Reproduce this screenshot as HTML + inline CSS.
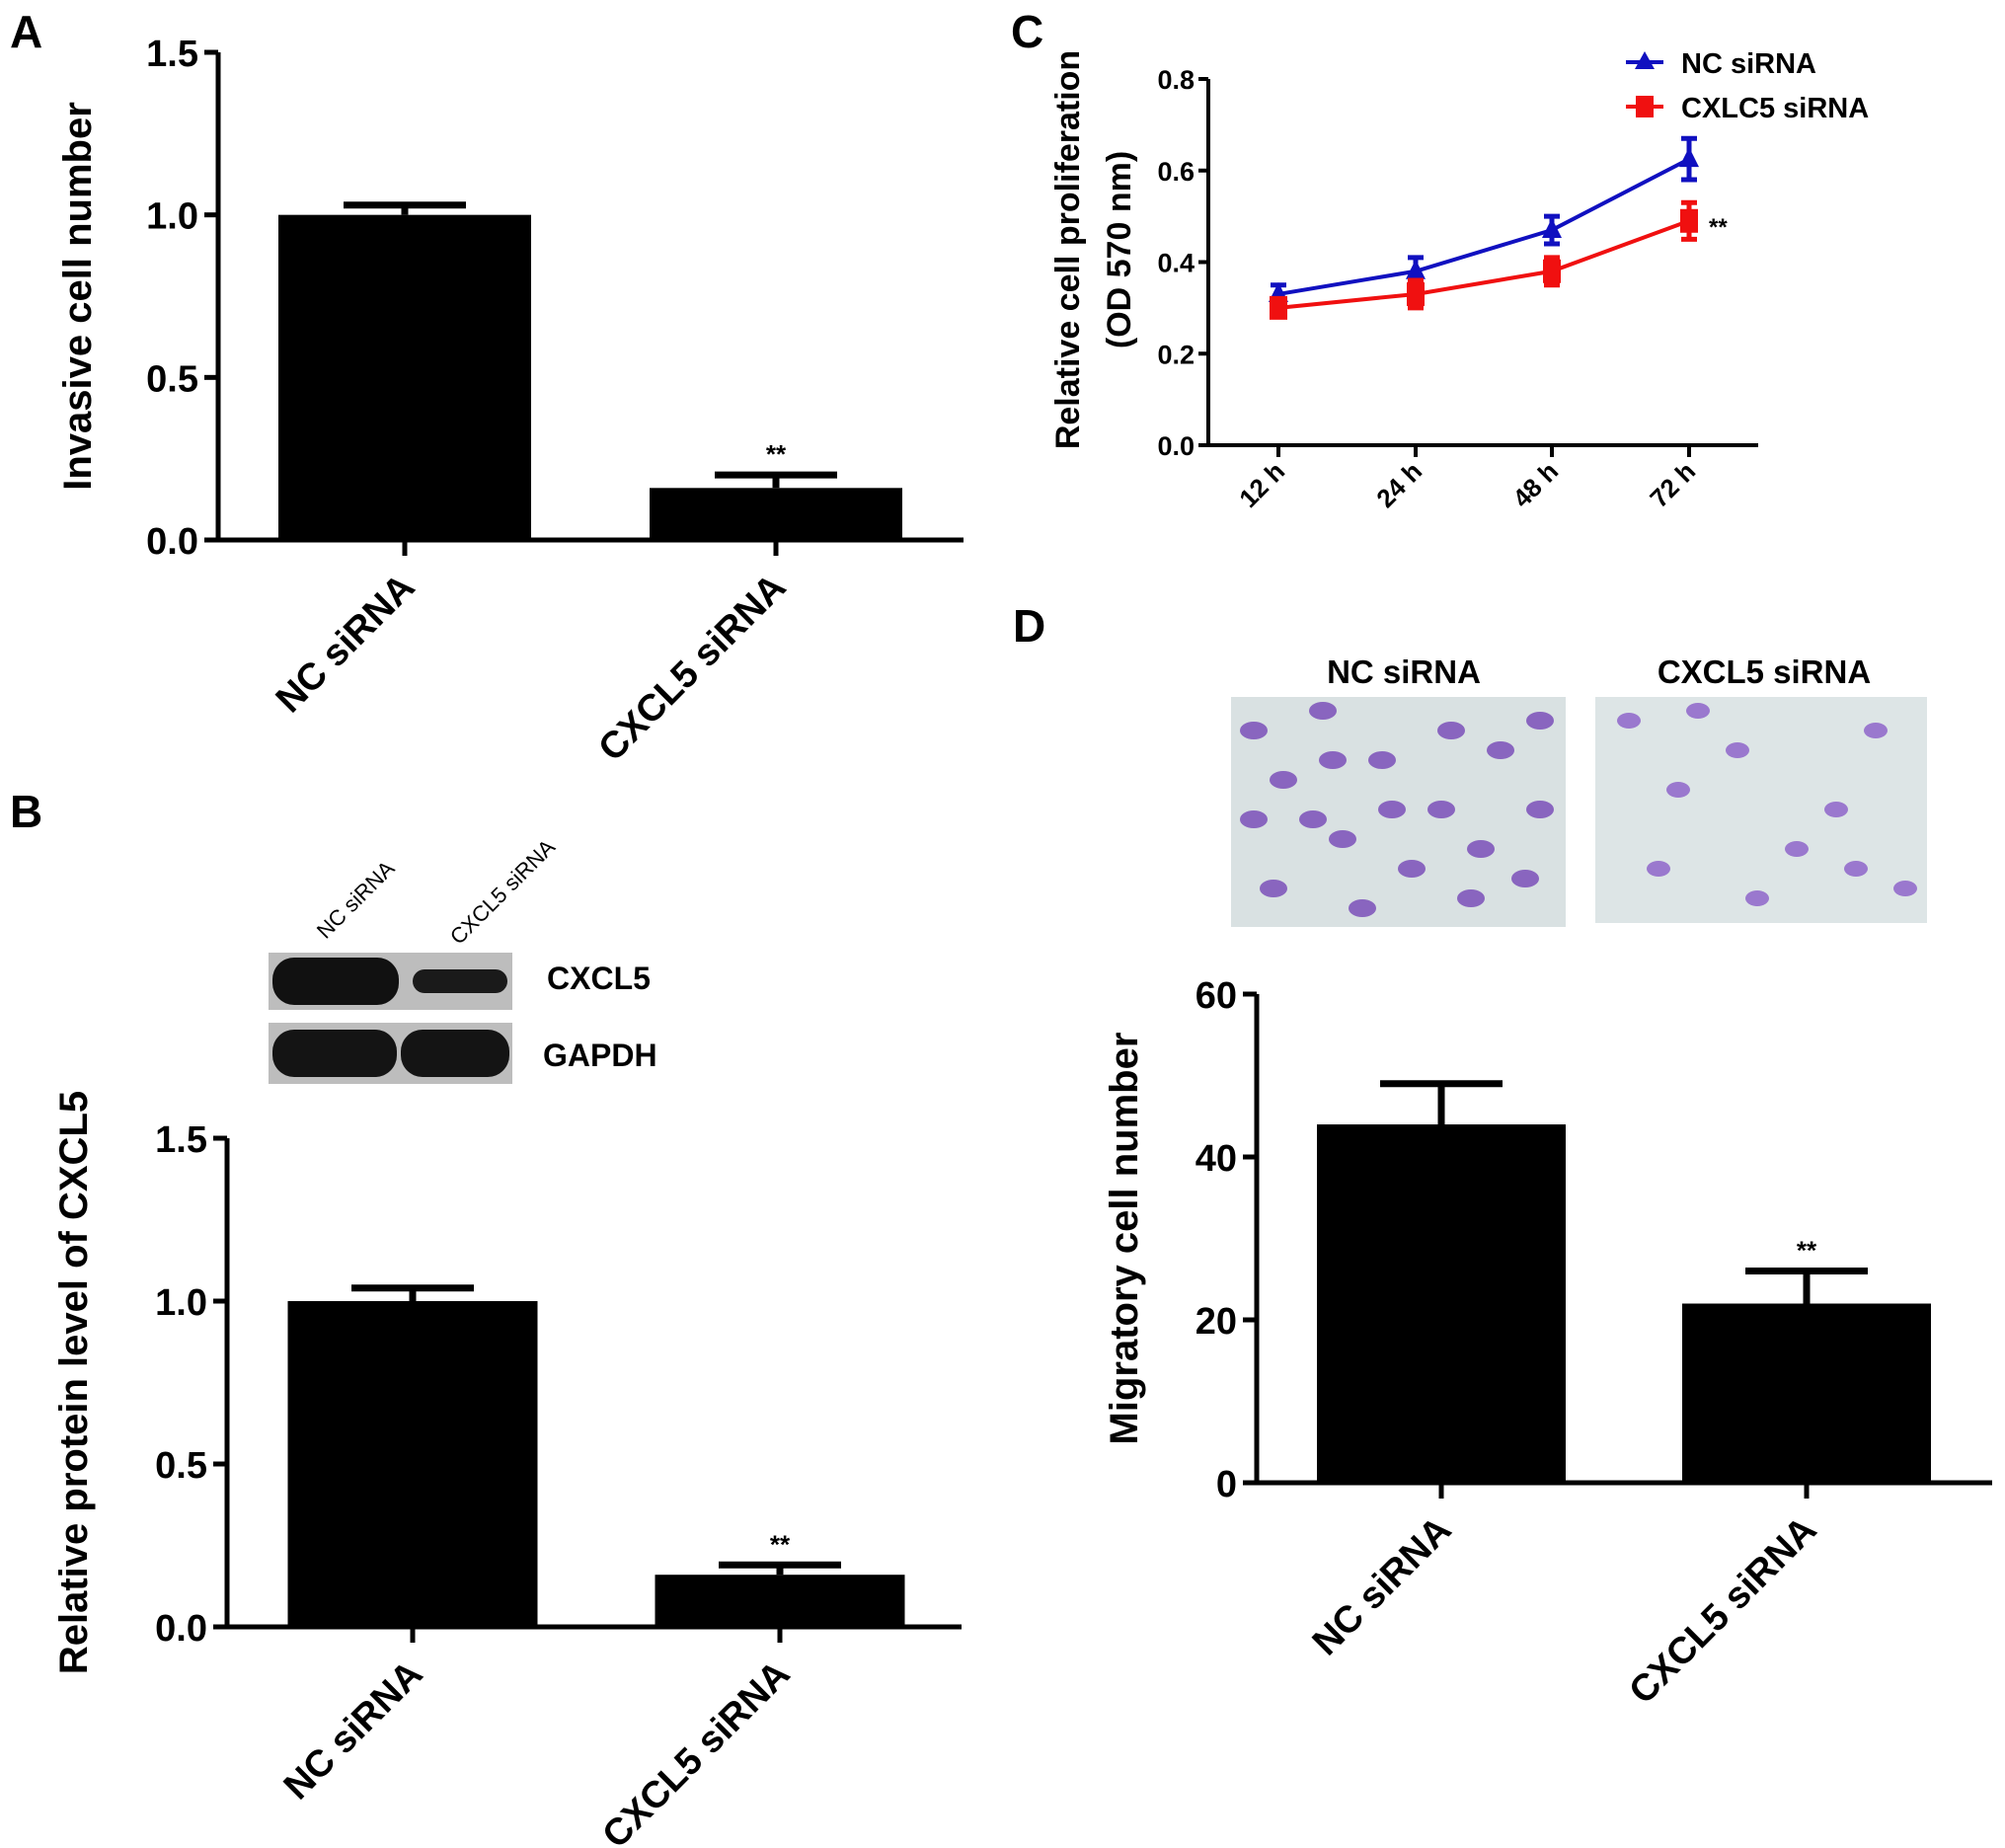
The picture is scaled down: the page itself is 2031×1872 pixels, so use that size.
<!DOCTYPE html>
<html><head><meta charset="utf-8"><style>
html,body{margin:0;padding:0;background:#fff;}
svg{display:block;font-family:"Liberation Sans",Arial,sans-serif;}
</style></head><body>
<svg id="fig" width="2031" height="1872" viewBox="0 0 2031 1872" xmlns="http://www.w3.org/2000/svg">
<text x="10" y="48" font-size="46" font-weight="bold">A</text>
<text x="10" y="838" font-size="46" font-weight="bold">B</text>
<text x="1024" y="48" font-size="46" font-weight="bold">C</text>
<text x="1026" y="650" font-size="46" font-weight="bold">D</text>
<g>
<text transform="translate(330,952) rotate(-45)" font-size="22">NC siRNA</text>
<text transform="translate(465,958) rotate(-45)" font-size="22">CXCL5 siRNA</text>
<rect x="272" y="965" width="247" height="58" fill="#bdbdbd"/>
<rect x="276" y="970" width="128" height="48" rx="22" fill="#111"/>
<rect x="418" y="982" width="96" height="24" rx="12" fill="#1a1a1a"/>
<rect x="272" y="1036" width="247" height="62" fill="#bdbdbd"/>
<rect x="276" y="1043" width="126" height="48" rx="22" fill="#141414"/>
<rect x="406" y="1043" width="110" height="48" rx="22" fill="#141414"/>
<text x="554" y="1002" font-size="32" font-weight="bold">CXCL5</text>
<text x="550" y="1080" font-size="32" font-weight="bold">GAPDH</text>
</g>
<g>
<text x="1422" y="692" font-size="33" font-weight="bold" text-anchor="middle">NC siRNA</text>
<text x="1787" y="692" font-size="33" font-weight="bold" text-anchor="middle">CXCL5 siRNA</text>
<rect x="1247" y="706" width="339" height="233" fill="#d9e1e2"/>
<rect x="1616" y="706" width="336" height="229" fill="#dde5e6"/>
<g id="blobs"></g>
</g>
<g id="charts"></g>
</svg>
<script>
const NS="http://www.w3.org/2000/svg";
const root=document.getElementById('charts');
function mk(tag,attrs,parent,text){const e=document.createElementNS(NS,tag);for(const k in attrs)e.setAttribute(k,attrs[k]);if(text!==undefined)e.textContent=text;(parent||root).appendChild(e);return e;}

// Panel A data
const aCats=["NC siRNA","CXCL5 siRNA"];
const aVals=[1.0,0.16];
const aErrs=[0.03,0.04];
const aTicks=[0,0.5,1.0,1.5];
// Panel B data
const bCats=["NC siRNA","CXCL5 siRNA"];
const bVals=[1.0,0.16];
const bErrs=[0.04,0.03];
const bTicks=[0,0.5,1.0,1.5];
// Panel D data
const dCats=["NC siRNA","CXCL5 siRNA"];
const dVals=[44,22];
const dErrs=[5,4];
const dTicks=[0,20,40,60];
// Panel C data
const cTimes=["12 h","24 h","48 h","72 h"];
const cNC=[0.33,0.38,0.47,0.625];
const cNCErr=[0.02,0.03,0.03,0.045];
const cSi=[0.30,0.33,0.38,0.49];
const cSiErr=[0.015,0.03,0.03,0.04];
const cTicks=[0,0.2,0.4,0.6,0.8];

function barChart(cfg){
  const g=mk('g',{});
  
  
  const y=v=>cfg.y0-(v-cfg.ticks[0])/(cfg.ticks[cfg.ticks.length-1]-cfg.ticks[0])*(cfg.y0-cfg.y1);
  const bw=cfg.bw;
  cfg.vals.forEach((v,i)=>{
    const cx=cfg.cx[i];
    const b=mk('rect',{x:cx-bw/2,y:y(v),width:bw,height:cfg.y0-y(v),fill:'#000'},g);
    
    
    const et=y(v+cfg.errs[i]);
    const e=mk('path',{d:`M${cx},${y(v)}V${et}M${cx-62},${et}H${cx+62}`,stroke:'#000','stroke-width':7,fill:'none'},g);
    
    
    if(i===1){const s=mk('text',{x:cx,y:et-12,'font-size':26,'font-weight':'bold','text-anchor':'middle'},g,'**');
      
      }
    const tk=mk('line',{x1:cx,x2:cx,y1:cfg.y0,y2:cfg.y0+16,stroke:'#000','stroke-width':5},g);
    
    
    const lb=mk('text',{transform:`translate(${cx+12},${cfg.y0+50}) rotate(-45)`,'font-size':38,'font-weight':'bold','text-anchor':'end'},g,cfg.cats[i]);
    
    
  });
  const ax=mk('path',{d:`M${cfg.x0},${cfg.y1}V${cfg.y0}H${cfg.xEnd}`,stroke:'#000','stroke-width':5,fill:'none'},g);
  
  
  cfg.ticks.forEach(t=>{
    const l=mk('line',{x1:cfg.x0-14,x2:cfg.x0,y1:y(t),y2:y(t),stroke:'#000','stroke-width':5},g);
    
    
    const tx=mk('text',{x:cfg.x0-20,y:y(t)+14,'font-size':38,'font-weight':'bold','text-anchor':'end'},g,cfg.fmt(t));
    
    
  });
  const yt=mk('text',{transform:`translate(${cfg.titleX},${(cfg.y0+cfg.y1)/2}) rotate(-90)`,'font-size':40,'font-weight':'bold','text-anchor':'middle'},g,cfg.title);
  
  
}
barChart({name:'chart-a-invasion',cats:aCats,vals:aVals,errs:aErrs,ticks:aTicks,x0:221,xEnd:976,y0:547,y1:53,cx:[410,786],bw:256,fmt:t=>t.toFixed(1),title:'Invasive cell number',titleX:92});
barChart({name:'chart-b-protein',cats:bCats,vals:bVals,errs:bErrs,ticks:bTicks,x0:230,xEnd:974,y0:1648,y1:1153,cx:[418,790],bw:253,fmt:t=>t.toFixed(1),title:'Relative protein level of CXCL5',titleX:88});
barChart({name:'chart-d-migration',cats:dCats,vals:dVals,errs:dErrs,ticks:dTicks,x0:1273,xEnd:2018,y0:1502,y1:1007,cx:[1460,1830],bw:252,fmt:t=>String(t),title:'Migratory cell number',titleX:1152});

// Panel C line chart
(function(){
  const g=mk('g',{});
  
  
  const x0=1224,xEnd=1781,y0=451,y1=80;
  const xs=[1295,1434,1572,1711];
  const y=v=>y0-v/0.8*(y0-y1);
  const ax=mk('path',{d:`M${x0},${y1}V${y0}H${xEnd}`,stroke:'#000','stroke-width':4,fill:'none'},g);
  
  
  cTicks.forEach(t=>{
    const l=mk('line',{x1:x0-10,x2:x0,y1:y(t),y2:y(t),stroke:'#000','stroke-width':4},g);
    
    
    const tx=mk('text',{x:x0-14,y:y(t)+10,'font-size':27,'font-weight':'bold','text-anchor':'end'},g,t.toFixed(1));
    
    
  });
  cTimes.forEach((t,i)=>{
    const l=mk('line',{x1:xs[i],x2:xs[i],y1:y0,y2:y0+12,stroke:'#000','stroke-width':4},g);
    
    
    const tx=mk('text',{transform:`translate(${xs[i]+8},${y0+28}) rotate(-45)`,'font-size':26,'font-weight':'bold','text-anchor':'end'},g,t);
    
    
  });
  function series(vals,errs,col,marker,name){
    const sg=mk('g',{},g);
    
    
    mk('polyline',{points:vals.map((v,i)=>xs[i]+','+y(v)).join(' '),fill:'none',stroke:col,'stroke-width':4},sg);
    vals.forEach((v,i)=>{
      const a=y(v+errs[i]),b=y(v-errs[i]),x=xs[i];
      const e=mk('path',{d:`M${x},${a}V${b}M${x-8},${a}H${x+8}M${x-8},${b}H${x+8}`,stroke:col,'stroke-width':5,fill:'none'},sg);
      
      
      let m;
      if(marker==='tri')m=mk('path',{d:`M${x},${y(v)-12}L${x+10},${y(v)+8}L${x-10},${y(v)+8}Z`,fill:col},sg);
      else m=mk('rect',{x:x-9,y:y(v)-12,width:18,height:24,fill:col},sg);
      
      
    });
  }
  series(cNC,cNCErr,'#1010c0','tri','series-nc-sirna');
  series(cSi,cSiErr,'#f01010','sq','series-cxcl5-sirna');
  const st=mk('text',{x:xs[3]+20,y:y(cSi[3])+14,'font-size':24,'font-weight':'bold'},g,'**');
  
  
  const lg=mk('g',{},g);
  
  
  mk('line',{x1:1647,x2:1685,y1:63,y2:63,stroke:'#1010c0','stroke-width':4},lg);
  mk('path',{d:'M1666,52L1676,70L1656,70Z',fill:'#1010c0'},lg);
  mk('text',{x:1703,y:74,'font-size':29,'font-weight':'bold'},lg,'NC siRNA');
  mk('line',{x1:1647,x2:1685,y1:108,y2:108,stroke:'#f01010','stroke-width':4},lg);
  mk('rect',{x:1657,y:97,width:18,height:22,fill:'#f01010'},lg);
  mk('text',{x:1703,y:119,'font-size':29,'font-weight':'bold'},lg,'CXLC5 siRNA');
  const yt=mk('text',{transform:'translate(1093,253) rotate(-90)','font-size':34,'font-weight':'bold','text-anchor':'middle'},g,'Relative cell proliferation');
  
  
  const yt2=mk('text',{transform:'translate(1145,253) rotate(-90)','font-size':34,'font-weight':'bold','text-anchor':'middle'},g,'(OD 570 nm)');
  
  
})();

// micrograph cell blobs (decorative)
const bl=document.getElementById('blobs');
const blobNC=[[1270,740],[1300,790],[1340,720],[1360,850],[1400,770],[1430,880],[1460,820],[1500,860],[1520,760],[1560,730],[1545,890],[1290,900],[1380,920],[1470,740],[1330,830],[1560,820],[1410,820],[1490,910],[1270,830],[1350,770]];
const blobSi=[[1650,730],[1700,800],[1760,760],[1820,860],[1860,820],[1900,740],[1930,900],[1680,880],[1780,910],[1880,880],[1720,720]];
blobNC.forEach(p=>{mk('ellipse',{cx:p[0],cy:p[1],rx:14,ry:9,fill:'#7a4fb8',opacity:0.85},bl);});
blobSi.forEach(p=>{mk('ellipse',{cx:p[0],cy:p[1],rx:12,ry:8,fill:'#8a5cc8',opacity:0.8},bl);});
</script>
</body></html>
